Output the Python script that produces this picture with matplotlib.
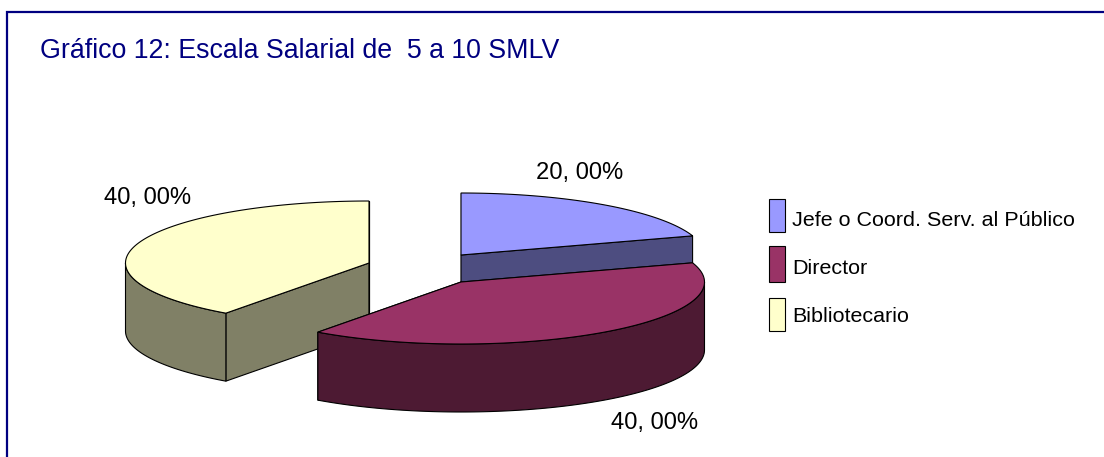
import numpy as np
import matplotlib as mpl
import matplotlib.pyplot as plt
from matplotlib.patches import Polygon, Rectangle

mpl.rc('font', family='Liberation Sans')

categories = ['Jefe o Coord. Serv. al Público', 'Director', 'Bibliotecario']
values = [20, 40, 40]
value_labels = ['20, 00%', '40, 00%', '40, 00%']
title = 'Gráfico 12: Escala Salarial de  5 a 10 SMLV'

top_colours = ['#9999FF', '#993366', '#FFFFCC']
side_colours = ['#4D4D80', '#4D1A33', '#808066']

# centre of each exploded slice, in pixels
centres = [(461, 255), (461, 282), (369, 263)]
label_pos = [(580, 173), (655, 423), (148, 198)]
rx, ry, depth = 243.5, 62, 68
navy = '#000080'

# legend boxes are not evenly spaced in the original
swatch_top = [199, 246, 298]
swatch_h = [33, 36, 33]
legend_text_y = [220, 268, 317]

fig = plt.figure(figsize=(11.04, 4.57), dpi=100)
ax = fig.add_axes([0, 0, 1, 1])
ax.set_xlim(0, 1104)
ax.set_ylim(457, 0)
ax.axis('off')

# only left and top of the frame are inside the crop
ax.plot([7, 7, 1104], [457, 12, 12], color=navy, lw=1.6, solid_joinstyle='miter')
ax.text(40, 51, title, color=navy, fontsize=19.3, va='center', ha='left')


def arc(centre, a0, a1, drop=0):
    # angles clockwise from straight up, squashed to look tilted
    angles = np.radians(np.linspace(a0, a1, 120))
    xs = centre[0] + rx * np.sin(angles)
    ys = centre[1] - ry * np.cos(angles) + drop
    return np.column_stack([xs, ys])


def draw_slice(centre, a0, a1, top, side):
    apex = np.array(centre, dtype=float)
    down = np.array([0, depth])

    # cut faces first, rim over them, top last
    for a in (a0, a1):
        edge = arc(centre, a, a, 0)[0]
        face = [apex, edge, edge + down, apex + down]
        ax.add_patch(Polygon(face, facecolor=side, edgecolor='black', lw=0.8))

    r0, r1 = max(a0, 90), min(a1, 270)
    if r0 < r1:
        rim = np.vstack([arc(centre, r0, r1), arc(centre, r0, r1, depth)[::-1]])
        ax.add_patch(Polygon(rim, facecolor=side, edgecolor='black', lw=0.8))

    pts = np.vstack([apex, arc(centre, a0, a1)])
    ax.add_patch(Polygon(pts, facecolor=top, edgecolor='black', lw=0.8))


edges = np.concatenate([[0], np.cumsum(values)]) / sum(values) * 360

# back to front: bibliotecario, jefe, director
for i in [2, 0, 1]:
    draw_slice(centres[i], edges[i], edges[i + 1], top_colours[i], side_colours[i])
    ax.text(*label_pos[i], value_labels[i], fontsize=17.1, ha='center', va='center', color='black')

for i, name in enumerate(categories):
    ax.add_patch(Rectangle((769, swatch_top[i]), 15.5, swatch_h[i], facecolor=top_colours[i],
                           edgecolor='black', lw=0.8))
    ax.text(792, legend_text_y[i], name, fontsize=15.45, va='center', ha='left', color='black')

plt.savefig('out.png', dpi=100)
